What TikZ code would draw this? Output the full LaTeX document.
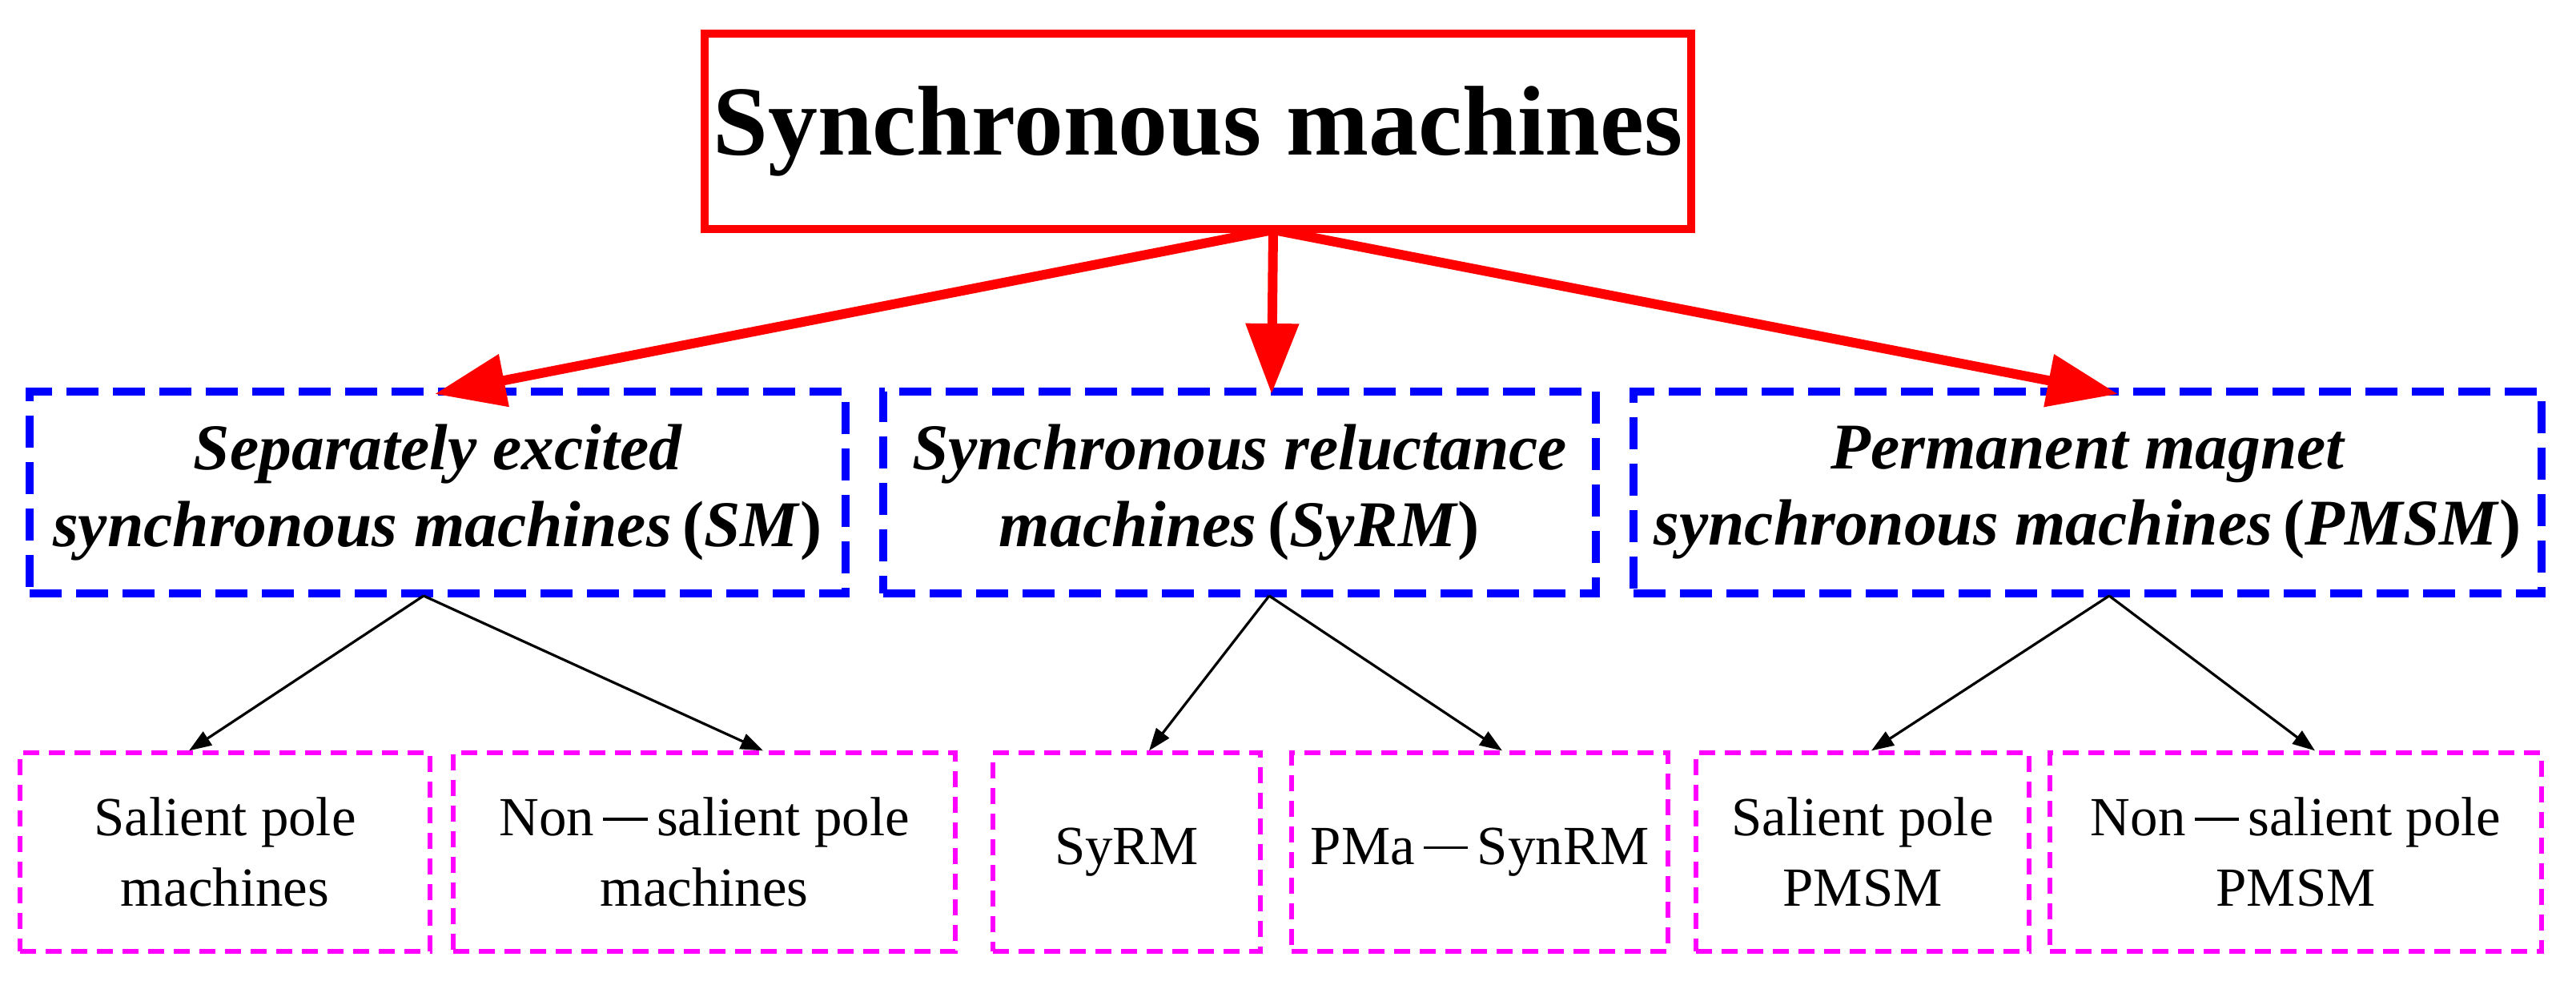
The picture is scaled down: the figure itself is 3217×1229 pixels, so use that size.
\documentclass[tikz,border=0pt]{standalone}
\usepackage{fontspec}
\setmainfont{Liberation Serif}
\usetikzlibrary{arrows.meta}
\definecolor{mag}{RGB}{255,0,255}
\definecolor{bl}{RGB}{0,0,255}
\definecolor{rd}{RGB}{255,0,0}
\newcommand{\mydash}{\,\rule[0.28em]{0.8em}{0.05em}\,}
\begin{document}
\begin{tikzpicture}[x=0.25mm,y=-0.25mm,
 top/.style={draw=rd,line width=2.5mm,minimum width=308mm,minimum height=61mm,font=\fontsize{88}{96}\selectfont\bfseries,inner sep=0},
 mid/.style={draw=bl,line width=2.3mm,dash pattern=on 10mm off 4.5mm,font=\fontsize{58}{68}\selectfont\bfseries\itshape,align=center,inner sep=0,minimum height=63mm},
 low/.style={draw=mag,line width=1.3mm,dash pattern=on 5mm off 3mm,font=\fontsize{49}{62}\selectfont,align=center,inner sep=0,minimum height=62mm},
 big/.style={rd,line width=3mm,-{Triangle[length=22mm,width=16mm]}},
 small/.style={black,line width=0.8mm,-{Triangle[length=7mm,width=5mm]}}]
\useasboundingbox (0,0) rectangle (3217,1229);
\node[top] (t) at (1496,164) {Synchronous machines};
\node[mid,minimum width=254.75mm] (sm) at (546.5,615) {Separately excited\\synchronous machines\,\textup{(}SM\textup{)}};
\node[mid,minimum width=222.5mm] (sy) at (1548,615) {Synchronous reluctance\\machines\,\textup{(}SyRM\textup{)}};
\node[mid,minimum width=283.5mm] (pm) at (2607,615) {Permanent magnet\\synchronous machines\,\textup{(}PMSM\textup{)}};
\node[low,minimum width=128mm] (b1) at (281,1064) {Salient pole\\machines};
\node[low,minimum width=156.75mm] (b2) at (879.5,1064) {Non\mydash salient pole\\machines};
\node[low,minimum width=83.5mm] (b3) at (1407,1064) {SyRM};
\node[low,minimum width=117.5mm] (b4) at (1848,1064) {PMa\mydash SynRM};
\node[low,minimum width=104mm] (b5) at (2326,1064) {Salient pole\\PMSM};
\node[low,minimum width=153.5mm] (b6) at (2867,1064) {Non\mydash salient pole\\PMSM};
\coordinate (s) at (1590,287);
\coordinate (a1) at (543,492);
\coordinate (a2) at (1588,492);
\coordinate (a3) at (2645,492);
\draw[big] (s) -- (a1);
\draw[big] (s) -- (a2);
\draw[big] (s) -- (a3);
\coordinate (m1) at (529,744);
\coordinate (m2) at (1585,744);
\coordinate (m3) at (2634,744);
\draw[small] (m1) -- (b1.north -| 236,0);
\draw[small] (m1) -- (b2.north -| 953,0);
\draw[small] (m2) -- (b3.north -| 1435,0);
\draw[small] (m2) -- (b4.north -| 1876,0);
\draw[small] (m3) -- (b5.north -| 2337,0);
\draw[small] (m3) -- (b6.north -| 2891,0);
\end{tikzpicture}
\end{document}
